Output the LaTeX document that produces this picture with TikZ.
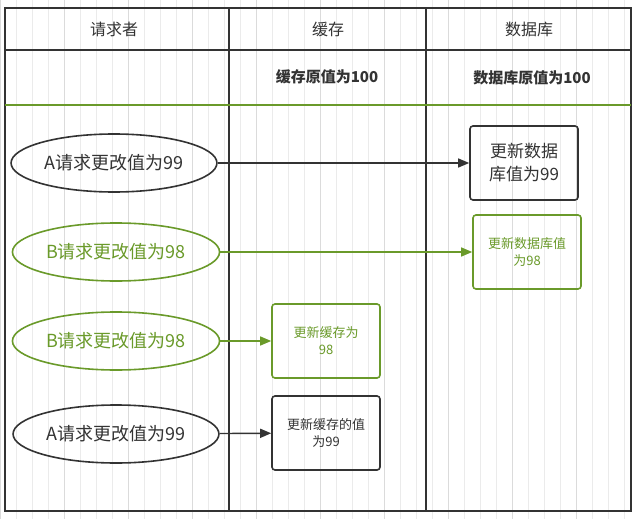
\documentclass[tikz,border=0pt]{standalone}
\usepackage{fontspec}
\setmainfont{Noto Sans CJK SC}
\usetikzlibrary{shapes.geometric,arrows.meta}
\definecolor{gr}{HTML}{6A9A2A}
\definecolor{dk}{HTML}{333333}
\begin{document}
\begin{tikzpicture}[x=1pt,y=-1pt,
  ell/.style={ellipse,draw=dk,line width=1.6pt,minimum width=204pt,minimum height=58pt,font=\fontsize{18}{21}\selectfont,text=dk},
  gell/.style={ell,draw=gr,text=gr},
  box/.style={rectangle,rounded corners=3pt,draw=dk,line width=1.6pt,minimum width=108pt,minimum height=74pt,align=center,font=\fontsize{13}{17}\selectfont,text=dk},
  gbox/.style={box,draw=gr,text=gr},
  arr/.style={-{Triangle[length=11pt,width=9pt]},line width=1.4pt,draw=dk},
  garr/.style={arr,draw=gr},
  hdr/.style={font=\fontsize{16}{19}\selectfont,text=dk}]
\useasboundingbox (0,0) rectangle (640,519);
\fill[white] (0,0) rectangle (640,519);
\draw[black!8,line width=0.5pt] (0,0) grid[step=16] (640,519);
\draw[black!14,line width=0.6pt] (0,0) grid[step=64] (640,519);
\draw[dk,line width=1.8pt] (5,8) rectangle (631,511);
\draw[dk,line width=1.8pt] (5,50) -- (631,50);
\draw[dk,line width=1.8pt] (229,8) -- (229,511);
\draw[dk,line width=1.8pt] (426,8) -- (426,511);
\draw[gr,line width=1.6pt] (5,105) -- (631,105);
\node[hdr] (h1) at (114,29) {请求者};
\node[hdr] (h2) at (328,29) {缓存};
\node[hdr] (h3) at (529,29) {数据库};
\node[hdr,font=\fontsize{15}{18}\selectfont\bfseries] (v1) at (327,77) {缓存原值为100};
\node[hdr,font=\fontsize{15}{18}\selectfont\bfseries] (v2) at (532,78) {数据库原值为100};
\node[ell] (a1) at (114,163) {A请求更改值为99};
\node[gell] (b1) at (116,252) {B请求更改值为98};
\node[gell] (b2) at (116,341) {B请求更改值为98};
\node[ell] (a2) at (116,434) {A请求更改值为99};
\node[box,font=\fontsize{17}{23}\selectfont] (d1) at (524,163) {更新数据\\库值为99};
\node[gbox] (d2) at (527,252) {更新数据库值\\为98};
\node[gbox] (c1) at (326,341) {更新缓存为\\98};
\node[box] (c2) at (326,433) {更新缓存的值\\为99};
\draw[arr] (a1) -- (d1);
\draw[garr] (b1) -- (d2);
\draw[garr] (b2) -- (c1);
\draw[arr] (a2) -- (c2);
\end{tikzpicture}
\end{document}
